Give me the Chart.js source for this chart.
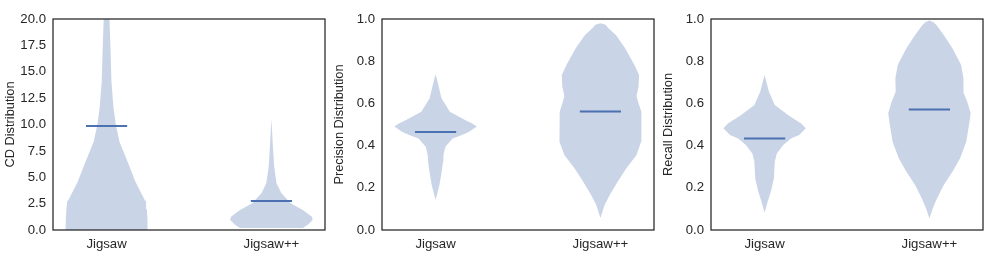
<!DOCTYPE html>
<html>
<head>
<meta charset="utf-8">
<script src="https://cdn.jsdelivr.net/npm/chart.js@4.4.0/dist/chart.umd.min.js"></script>
<style>
  body { margin: 0; background: #fff; }
  .panel { position: absolute; top: 0; width: 329px; height: 266px; }
</style>
</head>
<body>
<div class="panel" style="left:0px"><canvas id="cd" width="329" height="266"></canvas></div>
<div class="panel" style="left:329px"><canvas id="precision" width="329" height="266"></canvas></div>
<div class="panel" style="left:658px"><canvas id="recall" width="329" height="266"></canvas></div>
<script>
// categories on the x axis
var categories = ['Jigsaw', 'Jigsaw++'];

// CD distribution: levels and (relative) density of each violin
var cdJigsawY = [-0.5, 0, 1.0, 2.0, 2.7, 2.84, 4.58, 6.16, 8.37, 9.95, 11.6, 14.1, 17.2, 20, 21];
var cdJigsawD = [40, 40, 39.5, 39, 38.3, 37, 28, 21.7, 12.5, 9, 6.7, 4.7, 3.8, 2.8, 2.5];
var cdPlusY = [0.2, 0.5, 0.95, 1.26, 1.9, 2.53, 3.5, 4.45, 6.0, 8.2, 10.5];
var cdPlusD = [31, 36, 40.7, 40, 31, 19, 9.7, 5, 2.7, 1.3, 0];
var cdMedians = [9.85, 2.75];

// precision distribution
var precJigsawY = [0.142, 0.213, 0.276, 0.324, 0.355, 0.395, 0.434, 0.45, 0.466, 0.49, 0.505, 0.521, 0.561, 0.624, 0.687, 0.739];
var precJigsawD = [0, 3.8, 6, 7.3, 7.7, 9.7, 16.7, 26, 33, 40.5, 36, 29, 14, 5.8, 2.7, 0];
var precPlusY = [0.057, 0.118, 0.166, 0.229, 0.292, 0.355, 0.418, 0.482, 0.561, 0.60, 0.635, 0.68, 0.735, 0.782, 0.861, 0.924, 0.96, 0.973, 0.98];
var precPlusD = [0, 4, 9, 16.7, 25, 35, 39.5, 40, 39.5, 37, 35, 37, 37.5, 33, 24, 15, 7, 5, 0];
var precMedians = [0.465, 0.562];

// recall distribution
var recJigsawY = [0.082, 0.134, 0.182, 0.245, 0.324, 0.363, 0.403, 0.434, 0.45, 0.482, 0.505, 0.545, 0.592, 0.655, 0.735];
var recJigsawD = [0, 3, 6.2, 9.2, 10, 12, 18.3, 26, 34, 40.5, 36, 23, 10, 4.3, 0];
var recPlusY = [0.055, 0.103, 0.15, 0.213, 0.276, 0.34, 0.418, 0.498, 0.553, 0.608, 0.655, 0.719, 0.782, 0.861, 0.924, 0.97, 0.985, 0.993];
var recPlusD = [0, 3.3, 7.5, 14, 22.5, 30, 36, 38.7, 40.3, 37, 33, 33.3, 31, 22.5, 14, 7, 4, 0];
var recMedians = [0.434, 0.571];

// y tick ranges
var cdTicks = [0, 20, 2.5];
var unitTicks = [0, 1, 0.2];

var fillColor = 'rgba(76,114,176,0.3)';
var lineColor = '#4c72b0';
var textColor = '#262626';
var fontFamily = "'Liberation Sans', Arial, sans-serif";

// half width of the widest part of a violin, in category units
var HALF = 0.25;

function violinOutline(center, ys, dens) {
  var maxD = Math.max.apply(null, dens);
  var pts = [];
  for (var i = 0; i < ys.length; i++) {
    pts.push({x: center + HALF * dens[i] / maxD, y: ys[i]});
  }
  for (var j = ys.length - 1; j >= 0; j--) {
    pts.push({x: center - HALF * dens[j] / maxD, y: ys[j]});
  }
  return pts;
}

var boxPlugin = {
  id: 'box',
  afterDatasetsDraw: function (chart) {
    var a = chart.chartArea, ctx = chart.ctx;
    ctx.save();
    ctx.strokeStyle = textColor;
    ctx.lineWidth = 1.25;
    ctx.strokeRect(a.left, a.top, a.right - a.left, a.bottom - a.top);
    ctx.restore();
  }
};

function makePanel(id, title, violins, medians, ticks) {
  var datasets = [];
  violins.forEach(function (v, i) {
    datasets.push({
      data: violinOutline(i, v[0], v[1]),
      fill: 'shape',
      backgroundColor: fillColor,
      borderColor: 'rgba(0,0,0,0)',
      borderWidth: 0,
      pointRadius: 0
    });
  });
  medians.forEach(function (m, i) {
    datasets.push({
      data: [{x: i - HALF / 2, y: m}, {x: i + HALF / 2, y: m}],
      fill: false,
      borderColor: lineColor,
      borderWidth: 2,
      pointRadius: 0
    });
  });

  new Chart(document.getElementById(id), {
    type: 'line',
    data: {datasets: datasets},
    plugins: [boxPlugin],
    options: {
      responsive: false,
      animation: false,
      events: [],
      layout: {padding: {top: 19, right: 4, left: 0, bottom: 0}},
      plugins: {legend: {display: false}, tooltip: {enabled: false}},
      scales: {
        x: {
          type: 'linear',
          min: -0.325,
          max: 1.325,
          grid: {display: false, drawTicks: false},
          border: {display: false},
          afterBuildTicks: function (s) {
            s.ticks = categories.map(function (c, k) { return {value: k}; });
          },
          afterFit: function (s) { s.height = 36; },
          ticks: {
            padding: 6,
            maxRotation: 0,
            color: textColor,
            font: {family: fontFamily, size: 13.2},
            callback: function (v) { return categories[v]; }
          }
        },
        y: {
          min: ticks[0],
          max: ticks[1],
          grid: {display: false, drawTicks: false},
          border: {display: false},
          afterFit: function (s) { s.width = 53; },
          title: {
            display: true,
            text: title,
            color: textColor,
            padding: {top: 3, bottom: 0},
            font: {family: fontFamily, size: 12.8}
          },
          ticks: {
            stepSize: ticks[2],
            padding: 7,
            color: textColor,
            font: {family: fontFamily, size: 13.2},
            callback: function (v) { return Number(v).toFixed(1); }
          }
        }
      }
    }
  });
}

makePanel('cd', 'CD Distribution', [[cdJigsawY, cdJigsawD], [cdPlusY, cdPlusD]], cdMedians, cdTicks);
makePanel('precision', 'Precision Distribution', [[precJigsawY, precJigsawD], [precPlusY, precPlusD]], precMedians, unitTicks);
makePanel('recall', 'Recall Distribution', [[recJigsawY, recJigsawD], [recPlusY, recPlusD]], recMedians, unitTicks);
</script>
</body>
</html>
